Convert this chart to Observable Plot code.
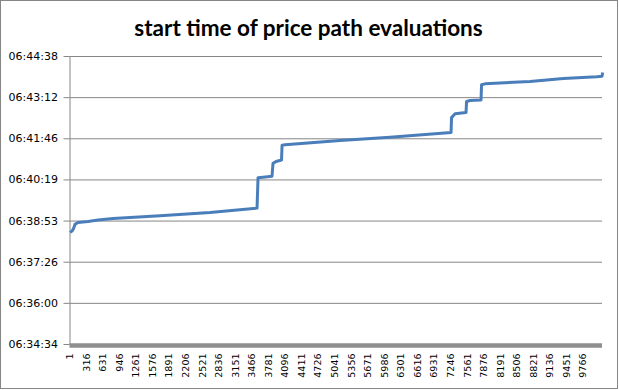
<!DOCTYPE html>
<html>
<head>
<meta charset="utf-8">
<script src="https://cdn.jsdelivr.net/npm/d3@7"></script>
<script src="https://cdn.jsdelivr.net/npm/@observablehq/plot@0.6"></script>
<style>
  html, body { margin: 0; padding: 0; background: #fff; }
  #wrap { position: relative; width: 619px; height: 390px; overflow: hidden; }
  #frame { position: absolute; left: 0; top: 0; width: 616px; height: 387px; border: 1px solid #868686; }
  #title { position: absolute; left: 0; top: 13px; width: 617px; text-align: center;
           font-family: Lato, "Open Sans", sans-serif; font-weight: bold; font-size: 22.5px; line-height: 30px; color: #000; }
  #chart { position: absolute; left: 0; top: 0; }
</style>
</head>
<body>
<div id="wrap">
  <div id="frame"></div>
  <div id="chart"></div>
  <div id="title">start time of price path evaluations</div>
</div>
<script>
// evaluation index (category) and start time
const evalIndex = [1, 39, 68, 96, 153, 343, 534, 819, 1713, 2664, 3558, 3577, 3672, 3843, 3862, 3920, 4024, 4034, 4091, 5137, 6088, 7249, 7258, 7325, 7534, 7544, 7610, 7819, 7829, 7895, 8751, 9385, 10020, 10121, 10134];
const startTime = ["06:38:29", "06:38:32", "06:38:37", "06:38:46", "06:38:50", "06:38:52", "06:38:55", "06:38:58", "06:39:04", "06:39:11", "06:39:20", "06:40:24", "06:40:25", "06:40:27", "06:40:54", "06:40:58", "06:41:01", "06:41:32", "06:41:33", "06:41:42", "06:41:49", "06:41:59", "06:42:30", "06:42:38", "06:42:41", "06:43:04", "06:43:06", "06:43:07", "06:43:39", "06:43:41", "06:43:46", "06:43:52", "06:43:56", "06:43:57", "06:44:05"];

// y axis: fractions of a day and their labels
const yTickDays = [0.274, 0.275, 0.276, 0.277, 0.278, 0.279, 0.280, 0.281];
const yTickLabels = ["06:34:34", "06:36:00", "06:37:26", "06:38:53", "06:40:19", "06:41:46", "06:43:12", "06:44:38"];

// x axis category labels
const xTickLabels = [1, 316, 631, 946, 1261, 1576, 1891, 2206, 2521, 2836, 3151, 3466, 3781, 4096, 4411, 4726, 5041, 5356, 5671, 5986, 6301, 6616, 6931, 7246, 7561, 7876, 8191, 8506, 8821, 9136, 9451, 9766];

const toSec = s => { const [h, m, x] = s.split(":").map(Number); return h * 3600 + m * 60 + x; };
const data = evalIndex.map((i, k) => ({ i, t: toSec(startTime[k]) }));
const ySec = yTickDays.map(d => d * 86400);
const yLab = d => yTickLabels[ySec.findIndex(v => Math.abs(v - d) < 1e-6)];

const chart = Plot.plot({
  width: 619,
  height: 390,
  marginLeft: 69.5,
  marginRight: 17,
  marginTop: 56,
  marginBottom: 46,
  style: { fontFamily: "DejaVu Sans", background: "transparent", color: "#000" },
  x: { domain: [0, 10130], axis: null },
  y: { domain: [ySec[0], ySec[ySec.length - 1]], axis: null },
  marks: [
    Plot.gridY(ySec, { stroke: "#868686", strokeOpacity: 1 }),
    Plot.ruleX([0], { stroke: "#868686" }),
    Plot.axisY({ ticks: ySec, tickFormat: yLab, label: null, tickSize: 6, tickPadding: 6, fontSize: 11, stroke: "#868686", fill: "#000" }),
    Plot.ruleY([ySec[0]], { stroke: "#8e8e8e", strokeWidth: 4.6, dy: 1 }),
    Plot.text(xTickLabels, { x: d => d, text: d => String(d), frameAnchor: "bottom", dy: 9, rotate: -90, textAnchor: "end", lineAnchor: "middle", fontSize: 9.5, fill: "#000" }),
    Plot.line(data, { x: "i", y: "t", stroke: "#4a7ebb", strokeWidth: 3, strokeLinejoin: "round", strokeLinecap: "butt" })
  ]
});
document.getElementById("chart").appendChild(chart);
</script>
</body>
</html>
